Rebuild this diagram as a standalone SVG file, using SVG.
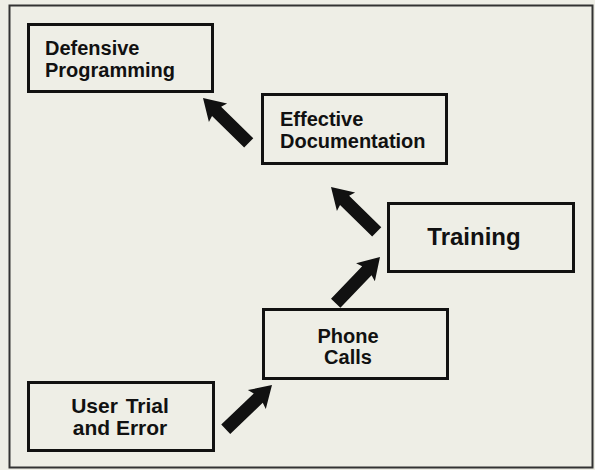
<svg xmlns="http://www.w3.org/2000/svg" width="595" height="470" viewBox="0 0 595 470">
<style>
.box{fill:none;stroke:#111;stroke-width:3}
.t{font-family:"Liberation Sans",Arial,sans-serif;font-weight:bold;font-size:20px;fill:#111}
.arr{fill:#111}
</style>
<defs>
<polygon id="arrow" points="0,0 -21,-13 -19,-6.5 -64,-6.5 -64,6.5 -19,6.5 -21,13"/>
</defs>
<rect x="0" y="0" width="595" height="470" fill="#eeeee6"/>
<rect x="9.5" y="5.5" width="583" height="462" fill="none" stroke="#333" stroke-width="2"/>
<g id="defensive-programming">
<rect class="box" x="28.5" y="24.5" width="184" height="67"/>
<text class="t" x="45" y="55">Defensive</text>
<text class="t" x="45" y="77">Programming</text>
</g>
<g id="effective-documentation">
<rect class="box" x="262.5" y="94.5" width="184" height="69"/>
<text class="t" x="280" y="126">Effective</text>
<text class="t" x="280" y="148">Documentation</text>
</g>
<g id="training">
<rect class="box" x="388.5" y="203.5" width="185" height="68"/>
<text class="t" x="474" y="245" text-anchor="middle" style="font-size:24px">Training</text>
</g>
<g id="phone-calls">
<rect class="box" x="263.5" y="309.5" width="184" height="69"/>
<text class="t" x="348" y="343" text-anchor="middle">Phone</text>
<text class="t" x="348" y="364" text-anchor="middle">Calls</text>
</g>
<g id="user-trial-and-error">
<rect class="box" x="28.5" y="382.5" width="185" height="68"/>
<text class="t" x="120" y="413" text-anchor="middle" style="font-size:21px;word-spacing:2px">User Trial</text>
<text class="t" x="120" y="435" text-anchor="middle" style="font-size:21px">and Error</text>
</g>
<g id="connectors" class="arr">
<use href="#arrow" transform="translate(203,98) rotate(-135.6)"/>
<use href="#arrow" transform="translate(331,187) rotate(-135.6)"/>
<use href="#arrow" transform="translate(380,257) rotate(-46.2)"/>
<use href="#arrow" transform="translate(272,385) rotate(-43.7)"/>
</g>
</svg>
